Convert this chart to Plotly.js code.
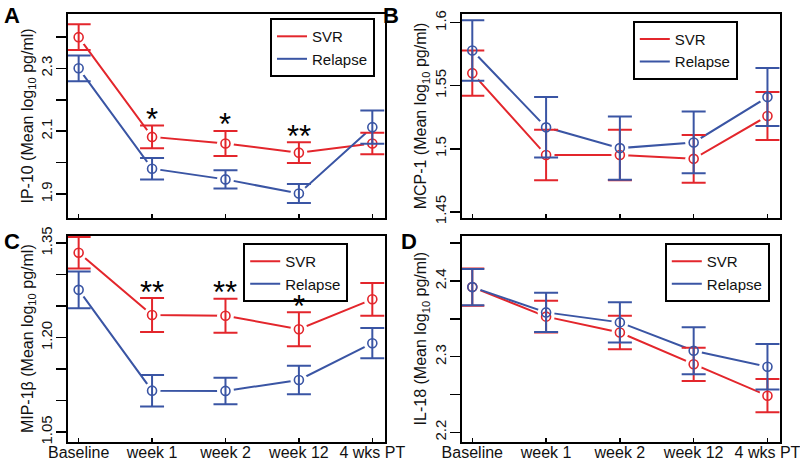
<!DOCTYPE html>
<html>
<head>
<meta charset="utf-8">
<script src="https://cdn.plot.ly/plotly-3.0.1.min.js"></script>
<style>html,body{margin:0;padding:0;background:#fff;}#chart{width:800px;height:463px;}</style>
</head>
<body>
<div id="chart"></div>
<script>
// ---- Data ----
const categories = ["Baseline", "week 1", "week 2", "week 12", "4 wks PT"];

// Panel A: IP-10
const ip10_svr = [2.399, 2.082, 2.061, 2.032, 2.061];
const ip10_svr_se = [0.041, 0.036, 0.040, 0.033, 0.034];
const ip10_rel = [2.300, 1.981, 1.947, 1.902, 2.113];
const ip10_rel_se = [0.041, 0.034, 0.029, 0.030, 0.053];
const ip10_stars = ["", "*", "*", "**", ""];

// Panel B: MCP-1
const mcp1_svr = [1.560, 1.495, 1.495, 1.492, 1.526];
const mcp1_svr_se = [0.018, 0.020, 0.020, 0.019, 0.019];
const mcp1_rel = [1.578, 1.517, 1.5005, 1.505, 1.541];
const mcp1_rel_se = [0.024, 0.024, 0.025, 0.0245, 0.023];

// Panel C: MIP-1beta
const mip1b_svr = [1.335, 1.236, 1.235, 1.2135, 1.261];
const mip1b_svr_se = [0.025, 0.027, 0.027, 0.027, 0.026];
const mip1b_rel = [1.276, 1.116, 1.1156, 1.133, 1.1913];
const mip1b_rel_se = [0.029, 0.025, 0.021, 0.0225, 0.024];
const mip1b_stars = ["", "**", "**", "*", ""];

// Panel D: IL-18
const il18_svr = [2.392, 2.353, 2.332, 2.290, 2.2485];
const il18_svr_se = [0.0247, 0.021, 0.022, 0.022, 0.022];
const il18_rel = [2.392, 2.3586, 2.3454, 2.3079, 2.2868];
const il18_rel_se = [0.024, 0.026, 0.0265, 0.031, 0.030];

// Axis tick labels
const ticksA = [1.9, 2.0, 2.1, 2.2, 2.3, 2.4];
const tickTextA = ["1.9", "", "2.1", "", "2.3", ""];
const ticksB = [1.45, 1.5, 1.55, 1.6];
const tickTextB = ["1.45", "1.5", "1.55", "1.6"];
const ticksC = [1.05, 1.10, 1.15, 1.20, 1.25, 1.30, 1.35];
const tickTextC = ["1.05", "", "", "1.20", "", "", "1.35"];
const ticksD = [2.2, 2.25, 2.3, 2.35, 2.4, 2.45];
const tickTextD = ["2.2", "", "2.3", "", "2.4", ""];

// ---- Styling ----
const RED = "#e3262c";
const BLUE = "#3a55a4";
const FONT = "Liberation Sans, Arial, sans-serif";
const TXT = "#111111";
const xs = categories.map((c, i) => i);

const panels = [
  {key: "", svr: ip10_svr, svrSe: ip10_svr_se, rel: ip10_rel, relSe: ip10_rel_se, legend: "legend"},
  {key: "2", svr: mcp1_svr, svrSe: mcp1_svr_se, rel: mcp1_rel, relSe: mcp1_rel_se, legend: "legend2"},
  {key: "3", svr: mip1b_svr, svrSe: mip1b_svr_se, rel: mip1b_rel, relSe: mip1b_rel_se, legend: "legend3"},
  {key: "4", svr: il18_svr, svrSe: il18_svr_se, rel: il18_rel, relSe: il18_rel_se, legend: "legend4"}
];

const traces = [];
panels.forEach(p => {
  const xa = "x" + p.key, ya = "y" + p.key;
  traces.push({x: xs, y: p.svr, xaxis: xa, yaxis: ya, type: "scatter", mode: "lines", name: "SVR",
    line: {color: RED, width: 2}, legend: p.legend, hoverinfo: "skip"});
  traces.push({x: xs, y: p.rel, xaxis: xa, yaxis: ya, type: "scatter", mode: "lines", name: "Relapse",
    line: {color: BLUE, width: 2}, legend: p.legend, hoverinfo: "skip"});
  [p.svr, p.rel].forEach(v => {
    traces.push({x: xs, y: v, xaxis: xa, yaxis: ya, type: "scatter", mode: "markers", showlegend: false,
      marker: {symbol: "circle", size: 17, color: "#ffffff", line: {width: 0}}, hoverinfo: "skip"});
  });
  [[p.svr, p.svrSe, RED], [p.rel, p.relSe, BLUE]].forEach(([v, se, col]) => {
    traces.push({x: xs, y: v, xaxis: xa, yaxis: ya, type: "scatter", mode: "markers", showlegend: false,
      marker: {symbol: "circle-open", size: 9, color: col, line: {width: 1.6, color: col}},
      error_y: {type: "data", array: se, visible: true, color: col, thickness: 2, width: 12}});
  });
});

const xRange = [-0.145, 4.17];
function xaxis(domain, anchor, showLabels) {
  return {domain: domain, anchor: anchor, range: xRange, tickvals: xs, ticktext: categories,
    showticklabels: showLabels, ticks: "inside", ticklen: 4, tickwidth: 1.5, tickcolor: "#000",
    ticklabelstandoff: -5, ticklabeloverflow: "allow",
    showline: true, linewidth: 2, linecolor: "#000", mirror: true, showgrid: false, zeroline: false,
    tickfont: {family: FONT, size: 16, color: TXT}, fixedrange: true};
}
function yaxis(domain, anchor, range, tv, tt, title) {
  return {domain: domain, anchor: anchor, range: range, tickvals: tv, ticktext: tt, tickangle: -90,
    ticks: "outside", ticklen: 10, tickwidth: 1.5, tickcolor: "#000", ticklabelstandoff: -2,
    showline: true, linewidth: 2, linecolor: "#000", mirror: true, showgrid: false, zeroline: false,
    tickfont: {family: FONT, size: 15, color: TXT},
    title: {text: title, font: {family: FONT, size: 16, color: TXT}, standoff: 0}, fixedrange: true};
}

const colL = [0.085, 0.481], colR = [0.577, 0.975];
const rowT = [0.529, 0.970], rowB = [0.046, 0.491];

function legendAt(x, y) {
  return {x: x, y: y, xanchor: "left", yanchor: "top", bgcolor: "#ffffff", bordercolor: "#000",
    borderwidth: 2, font: {family: FONT, size: 15, color: TXT}, tracegroupgap: 0};
}

const annotations = [];
[["A", 0.002, 0.998], ["B", 0.476, 0.998], ["C", 0.002, 0.51], ["D", 0.499, 0.51]].forEach(([t, x, y]) => {
  annotations.push({text: "<b>" + t + "</b>", xref: "paper", yref: "paper", x: x, y: y,
    xanchor: "left", yanchor: "top", showarrow: false, font: {family: FONT, size: 22, color: "#000"}});
});
function addStars(stars, vals, ses, xr, yr) {
  stars.forEach((s, i) => {
    if (!s) return;
    annotations.push({text: s, x: xs[i], y: vals[i] + ses[i], xref: xr, yref: yr, showarrow: false,
      yanchor: "middle", yshift: 6, font: {family: FONT, size: 31, color: "#000"}});
  });
}
addStars(ip10_stars, ip10_svr, ip10_svr_se, "x", "y");
addStars(mip1b_stars, mip1b_svr, mip1b_svr_se, "x3", "y3");

const layout = {
  width: 800, height: 463, margin: {l: 0, r: 0, t: 0, b: 0},
  paper_bgcolor: "#ffffff", plot_bgcolor: "#ffffff", showlegend: true,
  font: {family: FONT, color: TXT},
  xaxis: xaxis(colL, "y", false),
  yaxis: yaxis(rowT, "x", [1.824, 2.473], ticksA, tickTextA, "IP-10 (Mean log<sub>10</sub> pg/ml)"),
  xaxis2: xaxis(colR, "y2", false),
  yaxis2: yaxis(rowT, "x2", [1.445, 1.607], ticksB, tickTextB, "MCP-1 (Mean log<sub>10</sub> pg/ml)"),
  xaxis3: xaxis(colL, "y3", true),
  yaxis3: yaxis(rowB, "x3", [1.035, 1.362], ticksC, tickTextC, "MIP-1β (Mean log<sub>10</sub> pg/ml)"),
  xaxis4: xaxis(colR, "y4", true),
  yaxis4: yaxis(rowB, "x4", [2.1877, 2.46], ticksD, tickTextD, "IL-18 (Mean log<sub>10</sub> pg/ml)"),
  legend: legendAt(0.3375, 0.961),
  legend2: legendAt(0.791, 0.955),
  legend3: legendAt(0.304, 0.475),
  legend4: legendAt(0.831, 0.475),
  annotations: annotations
};

Plotly.newPlot("chart", traces, layout, {displayModeBar: false, staticPlot: true});
</script>
</body>
</html>
